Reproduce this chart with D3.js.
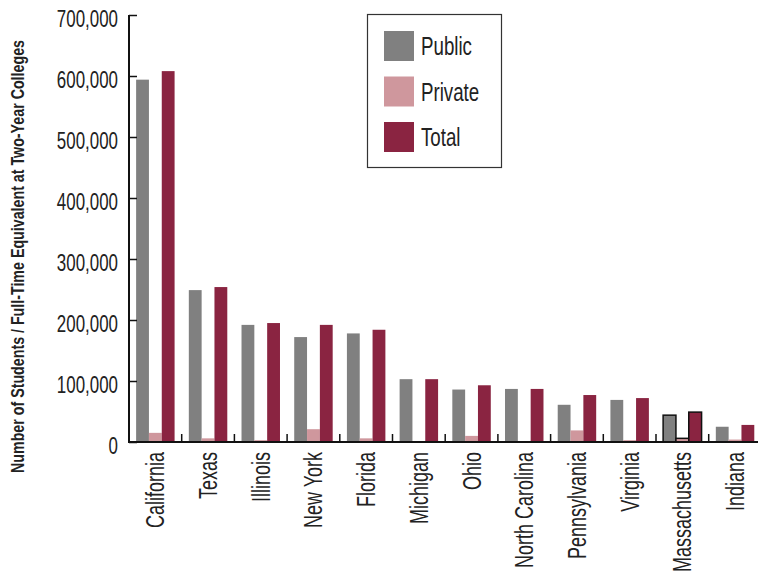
<!DOCTYPE html>
<html>
<head>
<meta charset="utf-8">
<script src="https://cdn.jsdelivr.net/npm/d3@7"></script>
<style>
  body { margin: 0; background: #fff; }
  svg { display: block; }
  text { font-family: "Liberation Sans", Arial, sans-serif; fill: #222; }
</style>
</head>
<body>
<svg id="chart" width="758" height="578"></svg>
<script>
const states = ["California","Texas","Illinois","New York","Florida","Michigan","Ohio","North Carolina","Pennsylvania","Virginia","Massachusetts","Indiana"];
const publicVals  = [594000, 249000, 192000, 172000, 178000, 103000, 86000, 87000, 61000, 69000, 44000, 25000];
const privateVals = [ 15000,   6000,   3000,  21000,   6000,   1000, 10000,   500, 19000,  3000,  6000,  4000];
const totalVals   = [608000, 254000, 195000, 192000, 184000, 103000, 93000, 87000, 77000, 72000, 49000, 28000];
const seriesNames = ["Public","Private","Total"];
const seriesColors = ["#808080","#cf979d","#8a2441"];
const yTicks = [0,100000,200000,300000,400000,500000,600000,700000];
const highlight = "Massachusetts";
const yTitle = "Number of Students / Full-Time Equivalent at Two-Year Colleges";

(function () {
const svg = d3.select("#chart");
const mLeft = 129, mRight = 761.4, mTop = 15, mBottom = 442;
const squeeze = 0.72; // condensed look

const x0 = d3.scaleBand().domain(states).range([mLeft, mRight]).paddingInner(0.27).paddingOuter(0.135);
const x1 = d3.scaleBand().domain(seriesNames).range([0, x0.bandwidth()]);
const y = d3.scaleLinear().domain([0, 700000]).range([mBottom, mTop]);
const color = d3.scaleOrdinal().domain(seriesNames).range(seriesColors);

const rows = states.map((s, i) => ({state: s, vals: [publicVals[i], privateVals[i], totalVals[i]]}));

// bars
const g = svg.append("g");
const groups = g.selectAll("g.state").data(rows).join("g")
  .attr("class","state")
  .attr("transform", d => `translate(${x0(d.state)},0)`);
groups.selectAll("rect").data(d => seriesNames.map((n, j) => ({name: n, value: d.vals[j], state: d.state})))
  .join("rect")
  .attr("x", d => x1(d.name))
  .attr("width", x1.bandwidth())
  .attr("y", d => y(d.value))
  .attr("height", d => y(0) - y(d.value))
  .attr("fill", d => color(d.name))
  .attr("stroke", d => d.state === highlight ? "#111" : "none")
  .attr("stroke-width", d => d.state === highlight ? 1.5 : 0);

// y axis
const yAxis = d3.axisLeft(y).tickValues(yTicks).tickFormat(d3.format(",")).tickSize(-8).tickPadding(11);
const ya = svg.append("g").attr("transform", `translate(${mLeft},0)`).call(yAxis);
ya.select(".domain").attr("stroke","#111").attr("stroke-width",2).attr("d", `M0,${mTop}V${mBottom}`);
ya.selectAll(".tick line").attr("stroke","#111").attr("stroke-width",1.5);
ya.selectAll(".tick text")
  .attr("x", 0)
  .attr("transform", `translate(-11,0) scale(${squeeze},1)`)
  .style("font-size","23.5px").attr("fill","#333").attr("dy","0.5em");

// x axis baseline and separator ticks
svg.append("line").attr("x1", mLeft - 1).attr("x2", 758).attr("y1", mBottom).attr("y2", mBottom)
  .attr("stroke","#111").attr("stroke-width",2);
const step = x0.step();
svg.append("g").selectAll("line").data(states.slice(1)).join("line")
  .attr("x1", d => x0(d) - step * 0.135).attr("x2", d => x0(d) - step * 0.135)
  .attr("y1", mBottom).attr("y2", mBottom - 8)
  .attr("stroke","#111").attr("stroke-width",1.5);

// x labels
svg.append("g").selectAll("text").data(states).join("text")
  .attr("transform", d => `translate(${x0(d) + x0.bandwidth()/2 + 9},452) rotate(-90) scale(${squeeze},1)`)
  .attr("text-anchor","end")
  .style("font-size","25px")
  .attr("fill","#333")
  .text(d => d);

// y title
svg.append("text")
  .attr("transform", `translate(24,256.5) rotate(-90) scale(0.77,1)`)
  .attr("text-anchor","middle")
  .style("font-size","18.5px")
  .style("font-weight","bold")
  .attr("fill","#111")
  .text(yTitle);

// legend
const lg = svg.append("g");
lg.append("rect").attr("x",367.5).attr("y",14.5).attr("width",134).attr("height",153)
  .attr("fill","#fff").attr("stroke","#333").attr("stroke-width",1.2);
const items = lg.selectAll("g.item").data(seriesNames).join("g").attr("class","item")
  .attr("transform", (d,i) => `translate(384,${31 + i*45.5})`);
items.append("rect").attr("width",30).attr("height",30).attr("fill", d => color(d));
items.append("text").attr("transform", `translate(37,24) scale(${squeeze},1)`)
  .style("font-size","26px").attr("fill","#222").text(d => d);
})();
</script>
</body>
</html>
